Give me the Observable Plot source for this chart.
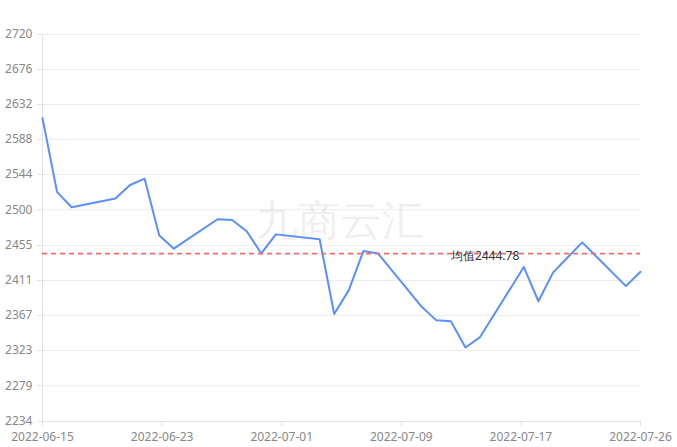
<!DOCTYPE html>
<html>
<head>
<meta charset="utf-8">
<script src="https://cdn.jsdelivr.net/npm/d3@7"></script>
<script src="https://cdn.jsdelivr.net/npm/@observablehq/plot@0.6"></script>
<style>
  html, body { margin: 0; padding: 0; background: #fff; }
  #chart { width: 677px; height: 447px; }
</style>
</head>
<body>
<div id="chart"></div>
<script>
const dates = [
  "2022-06-15", "2022-06-16", "2022-06-17", "2022-06-20", "2022-06-21", "2022-06-22",
  "2022-06-23", "2022-06-24", "2022-06-27", "2022-06-28", "2022-06-29", "2022-06-30",
  "2022-07-01", "2022-07-04", "2022-07-05", "2022-07-06", "2022-07-07", "2022-07-08",
  "2022-07-11", "2022-07-12", "2022-07-13", "2022-07-14", "2022-07-15", "2022-07-18",
  "2022-07-19", "2022-07-20", "2022-07-21", "2022-07-22", "2022-07-25", "2022-07-26"
];
const prices = [
  2615, 2522, 2503, 2514, 2531, 2539,
  2468, 2451, 2488, 2487, 2473, 2445,
  2469, 2463, 2369, 2399, 2448, 2445,
  2378, 2361, 2360, 2327, 2340, 2428,
  2385, 2421, 2440, 2459, 2404, 2422
];
const yTicks = [2234, 2279, 2323, 2367, 2411, 2455, 2500, 2544, 2588, 2632, 2676, 2720];
const xTickLabels = ["2022-06-15", "2022-06-23", "2022-07-01", "2022-07-09", "2022-07-17", "2022-07-26"];
const meanValue = 2444.78;
const meanLabel = "均值2444.78";
const meanLabelDate = "2022-07-13";
const watermark = "九商云汇";

const parse = d3.utcParse("%Y-%m-%d");
const data = dates.map((d, i) => ({date: parse(d), price: prices[i]}));
const d0 = parse(dates[0]);
const d1 = parse(dates[dates.length - 1]);
// axis splits the span into equal parts; labels show the day at each split
const nSplit = xTickLabels.length - 1;
const xTickDates = xTickLabels.map((_, i) => new Date(+d0 + (d1 - d0) * i / nSplit));

const chart = Plot.plot({
  width: 677,
  height: 447,
  marginLeft: 42,
  marginRight: 37,
  marginTop: 34,
  marginBottom: 26,
  style: {fontFamily: "'Noto Sans', 'Open Sans', sans-serif", fontSize: "12px", background: "#fff", color: "#888"},
  x: {type: "utc", domain: [d0, d1]},
  y: {domain: [yTicks[0], yTicks[yTicks.length - 1]]},
  marks: [
    Plot.gridY(yTicks, {stroke: "#ececec", strokeOpacity: 1}),
    Plot.ruleX([d0], {stroke: "#e3e3e3"}),
    Plot.ruleY([yTicks[0]], {stroke: "#e3e3e3"}),
    Plot.axisY({ticks: yTicks, tickSize: 5, tickPadding: 5, stroke: "#e3e3e3", fill: "#888", label: null, tickFormat: d => String(d)}),
    Plot.axisX({ticks: xTickDates, tickSize: 5, tickPadding: 6, stroke: "#e3e3e3", fill: "#888", label: null,
      tickFormat: (d, i) => xTickLabels[i] ?? d3.utcFormat("%Y-%m-%d")(d)}),
    Plot.lineY(data, {x: "date", y: "price", stroke: "#5b8ff9", strokeWidth: 2, curve: "linear"}),
    Plot.ruleY([meanValue], {stroke: "#f56c6c", strokeWidth: 1.6, strokeDasharray: "5,4"}),
    Plot.text([meanLabel], {x: () => parse(meanLabelDate), y: () => meanValue, text: d => d, textAnchor: "start", dy: 2, fill: "#333", fontSize: 12}),
    Plot.text([watermark], {text: d => d, frameAnchor: "middle", dx: -2, dy: -6, fontSize: 42, fill: "#999", fillOpacity: 0.17})
  ]
});
document.getElementById("chart").appendChild(chart);
</script>
</body>
</html>
